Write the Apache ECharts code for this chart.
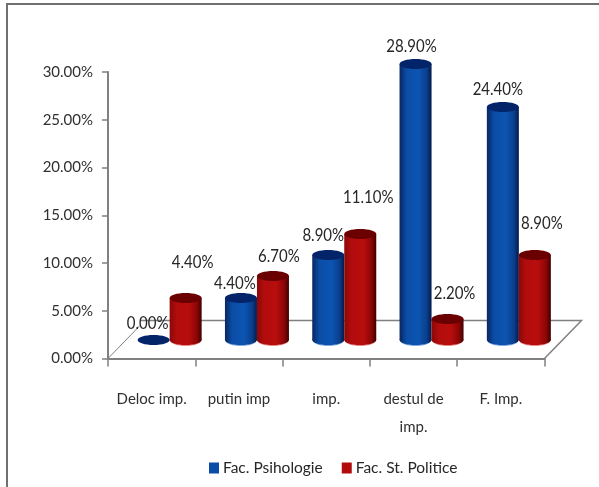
<!DOCTYPE html>
<html>
<head>
<meta charset="utf-8">
<style>
  html, body { margin: 0; padding: 0; background: #fff; }
  #chart { width: 599px; height: 487px; }
</style>
<script src="https://cdn.jsdelivr.net/npm/echarts@6/dist/echarts.min.js"></script>
</head>
<body>
<div id="chart"></div>
<script>
const categories = ['Deloc imp.', 'putin imp', 'imp.', 'destul de\nimp.', 'F. Imp.'];
const psihologie = [0.0, 4.4, 8.9, 28.9, 24.4];
const politice   = [4.4, 6.7, 11.1, 2.2, 8.9];

const FONT = 'Lato, "Open Sans", sans-serif';
const GRAY = '#808080';

// the fake 3D floor: bars stand this far behind the axis line
const DEPTH_X = 18;
const DEPTH_Y = 18.5;
const FLOOR_DX = 37;
const FLOOR_DY = 38;
const BAR_W = 32;
const RY = 5;

// the original labels were placed by hand, so each one keeps its own lift above the bar top
const liftBlue = [17, 15, 20, 18, 18];
const liftRed  = [36, 20, 37, 26, 32];
const nudgeBlue = [-6, -6, -5, -4, -5];
const nudgeRed  = [7, 6, 8, 7, 7];

const blueStops = [
    { offset: 0,    color: '#0a2560' },
    { offset: 0.22, color: '#0a4da6' },
    { offset: 0.6,  color: '#0c55b2' },
    { offset: 0.85, color: '#0a3f8c' },
    { offset: 1,    color: '#04194a' },
];
const redStops = [
    { offset: 0,    color: '#8a0808' },
    { offset: 0.22, color: '#b20c0c' },
    { offset: 0.6,  color: '#b80d0d' },
    { offset: 0.85, color: '#8c0606' },
    { offset: 1,    color: '#400000' },
];

function cylinder(side, stops, topColor, rimColor, lifts, nudges) {
    return (params, api) => {
        const top  = api.coord([api.value(0), api.value(1)]);
        const base = api.coord([api.value(0), 0]);
        const cx   = top[0] + DEPTH_X + side * BAR_W / 2;
        const topY = top[1] - DEPTH_Y;
        const botY = base[1] - DEPTH_Y;
        const fill = new echarts.graphic.LinearGradient(0, 0, 1, 0, stops);
        const i    = params.dataIndex;
        const children = [];

        if (api.value(1) > 0) {
            children.push(
                { type: 'ellipse', shape: { cx, cy: botY + 1, rx: BAR_W / 2 - 1, ry: RY }, style: { fill: rimColor } },
                { type: 'ellipse', shape: { cx, cy: botY, rx: BAR_W / 2, ry: RY }, style: { fill } },
                { type: 'rect', shape: { x: cx - BAR_W / 2, y: topY, width: BAR_W, height: botY - topY }, style: { fill } },
            );
        }
        children.push({ type: 'ellipse', shape: { cx, cy: topY, rx: BAR_W / 2, ry: RY }, style: { fill: topColor } });
        children.push({
            type: 'text',
            x: cx + nudges[i],
            y: topY - lifts[i],
            scaleY: 1.15,
            style: {
                text: api.value(1).toFixed(2) + '%',
                font: '15px ' + FONT,
                fill: '#262626',
                align: 'center',
                verticalAlign: 'middle',
            },
        });
        return { type: 'group', children };
    };
}

function floor(params, api) {
    const first = api.coord([0, 0]);
    const band  = api.size([1, 0])[0];
    const l = first[0] - band / 2;
    const r = l + band * categories.length;
    const y = first[1];
    const lineStyle = { stroke: GRAY, lineWidth: 1.5, fill: null };
    return {
        type: 'group',
        children: [
            { type: 'polyline', shape: { points: [[l, y], [l + FLOOR_DX - 5, y - FLOOR_DY + 5]] }, style: { stroke: GRAY, lineWidth: 1, fill: null } },
            { type: 'polyline', shape: { points: [[l + FLOOR_DX - 5, y - FLOOR_DY], [r + FLOOR_DX, y - FLOOR_DY], [r, y]] }, style: lineStyle },
        ],
    };
}

const chart = echarts.init(document.getElementById('chart'), null, { renderer: 'canvas' });

chart.setOption({
    animation: false,
    backgroundColor: '#fff',
    textStyle: { fontFamily: FONT },
    grid: { left: 108, right: 54.5, top: 72, bottom: 128.5 },
    graphic: [{
        type: 'polyline',
        shape: { points: [[7, 487], [7, 4], [599, 4]] },
        style: { stroke: '#707070', lineWidth: 2, fill: null },
    }],
    legend: {
        data: ['Fac. Psihologie', 'Fac. St. Politice'],
        left: 204,
        top: 455,
        icon: 'rect',
        itemWidth: 10,
        itemHeight: 11,
        itemGap: 19,
        textStyle: { fontFamily: FONT, fontSize: 15.5, color: '#262626', padding: [0, 0, 0, -1] },
    },
    xAxis: {
        type: 'category',
        data: categories,
        axisLine: { show: true, lineStyle: { color: GRAY, width: 2 } },
        axisTick: { show: true, length: 8, lineStyle: { color: GRAY, width: 1.5 } },
        axisLabel: { color: '#303030', fontFamily: FONT, fontSize: 15, margin: 27, lineHeight: 28, interval: 0 },
    },
    yAxis: {
        type: 'value',
        min: 0,
        max: 30,
        interval: 5,
        splitLine: { show: false },
        axisLine: { show: true, lineStyle: { color: GRAY, width: 2 } },
        axisTick: { show: true, length: 6, lineStyle: { color: GRAY, width: 1.5 } },
        axisLabel: { color: '#303030', fontFamily: FONT, fontSize: 15, margin: 15, formatter: (v) => v.toFixed(2) + '%' },
    },
    series: [
        {
            name: 'floor',
            type: 'custom',
            z: 1,
            silent: true,
            data: [[0, 0]],
            renderItem: floor,
        },
        {
            name: 'Fac. Psihologie',
            type: 'custom',
            z: 2,
            itemStyle: { color: '#0a4da6' },
            encode: { x: 0, y: 1 },
            data: psihologie.map((v, i) => [i, v]),
            renderItem: cylinder(-1, blueStops, '#04246a', '#7fa8e0', liftBlue, nudgeBlue),
        },
        {
            name: 'Fac. St. Politice',
            type: 'custom',
            z: 3,
            itemStyle: { color: '#b00c0c' },
            encode: { x: 0, y: 1 },
            data: politice.map((v, i) => [i, v]),
            renderItem: cylinder(1, redStops, '#6a0000', '#e88a8a', liftRed, nudgeRed),
        },
    ],
});
</script>
</body>
</html>
